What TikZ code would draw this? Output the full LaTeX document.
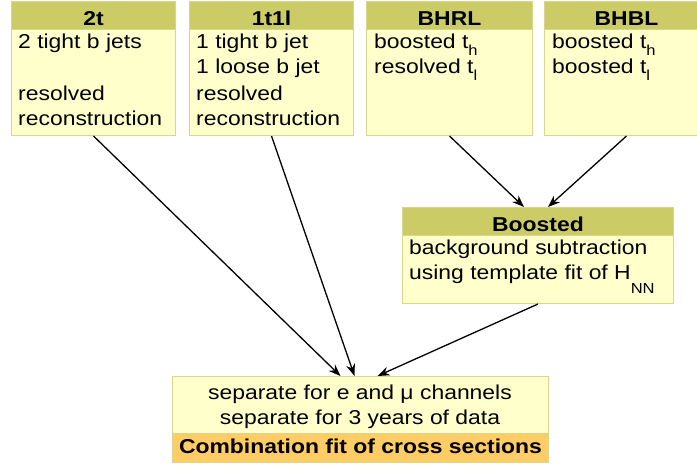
\documentclass[tikz,border=0pt]{standalone}
\usepackage{fontspec}
\setmainfont{Liberation Sans}[FakeStretch=1.14]
\usetikzlibrary{arrows.meta,calc}
\definecolor{hdrcol}{RGB}{204,204,102}
\definecolor{bodycol}{RGB}{255,255,204}
\definecolor{bordercol}{RGB}{214,214,140}
\definecolor{orangecol}{RGB}{255,204,102}
\newcommand{\lsub}[2][7pt]{\raisebox{-#1}{\fontsize{14.5}{14.5}\selectfont #2}}
\tikzset{
  boxline/.style={draw=bordercol, line width=1pt},
  hdrbox/.style={boxline, fill=hdrcol, anchor=north west, inner sep=0pt,
    minimum height=28pt, minimum width=#1, text height=20pt, text depth=0pt,
    font=\fontsize{20.1}{25}\selectfont\bfseries},
  bodybox/.style 2 args={boxline, fill=bodycol, anchor=north west, inner sep=0pt,
    minimum width=#1, minimum height=#2},
  bodytext/.style={anchor=north west, inner sep=0pt, align=left,
    font=\fontsize{20.1}{25}\selectfont},
  arr/.style={-{Stealth[length=12pt,width=9pt]}, line width=1.3pt, black},
}
\begin{document}
\begin{tikzpicture}[x=1pt,y=-1pt]
\useasboundingbox (0,0) rectangle (697,467);
\clip (0,0) rectangle (697,467);
% 2t
\node[bodybox={164pt}{106pt}] (b2t) at (11,29) {};
\node[hdrbox=164pt] (h2t) at (11,1) {2t};
\node[bodytext] (t2t) at (18,29) {\rule{0pt}{19pt}2 tight b jets\\[27pt]resolved\\reconstruction};
% 1t1l
\node[bodybox={164pt}{106pt}] (b1t) at (189,29) {};
\node[hdrbox=164pt] (h1t) at (189,1) {1t1l};
\node[bodytext] (t1t) at (196,29) {\rule{0pt}{19pt}1 tight b jet\\1 loose b jet\\[2pt]resolved\\reconstruction};
% BHRL
\node[bodybox={166pt}{106pt}] (bBR) at (366,29) {};
\node[hdrbox=166pt] (hBR) at (366,1) {BHRL};
\node[bodytext] (tBR) at (374,29) {\rule{0pt}{19pt}boosted t\lsub{h}\\resolved t\lsub{l}};
% BHBL
\node[bodybox={164pt}{106pt}] (bBB) at (544,29) {};
\node[hdrbox=164pt] (hBB) at (544,1) {BHBL};
\node[bodytext] (tBB) at (552,29) {\rule{0pt}{19pt}boosted t\lsub{h}\\boosted t\lsub{l}};
% Boosted
\node[bodybox={271pt}{68pt}] (bBo) at (402,235) {};
\node[hdrbox=271pt] (hBo) at (402,207) {Boosted};
\node[bodytext] (tBo) at (409,235) {\rule{0pt}{19pt}background subtraction\\using template fit of H\lsub[14pt]{NN}};
% Combination
\node[bodybox={376pt}{57pt}] (bC) at (172,376) {};
\node[hdrbox=376pt, fill=orangecol, minimum height=29pt, text height=11pt] (hC) at (172,433) {Combination fit of cross sections};
\node[bodytext, anchor=north, align=center] (tC) at (360,380) {\rule{0pt}{19pt}separate for e and μ channels\\separate for 3 years of data};
% arrows
\draw[arr] (b2t.south) -- ([xshift=-20pt]bC.north);
\draw[arr] (b1t.south) -- ([xshift=-6pt]bC.north);
\draw[arr] (bBo.south) -- ([xshift=17pt]bC.north);
\draw[arr] (bBR.south) -- ([xshift=-14pt]hBo.north);
\draw[arr] (bBB.south) -- ([xshift=10pt]hBo.north);
\end{tikzpicture}
\end{document}
